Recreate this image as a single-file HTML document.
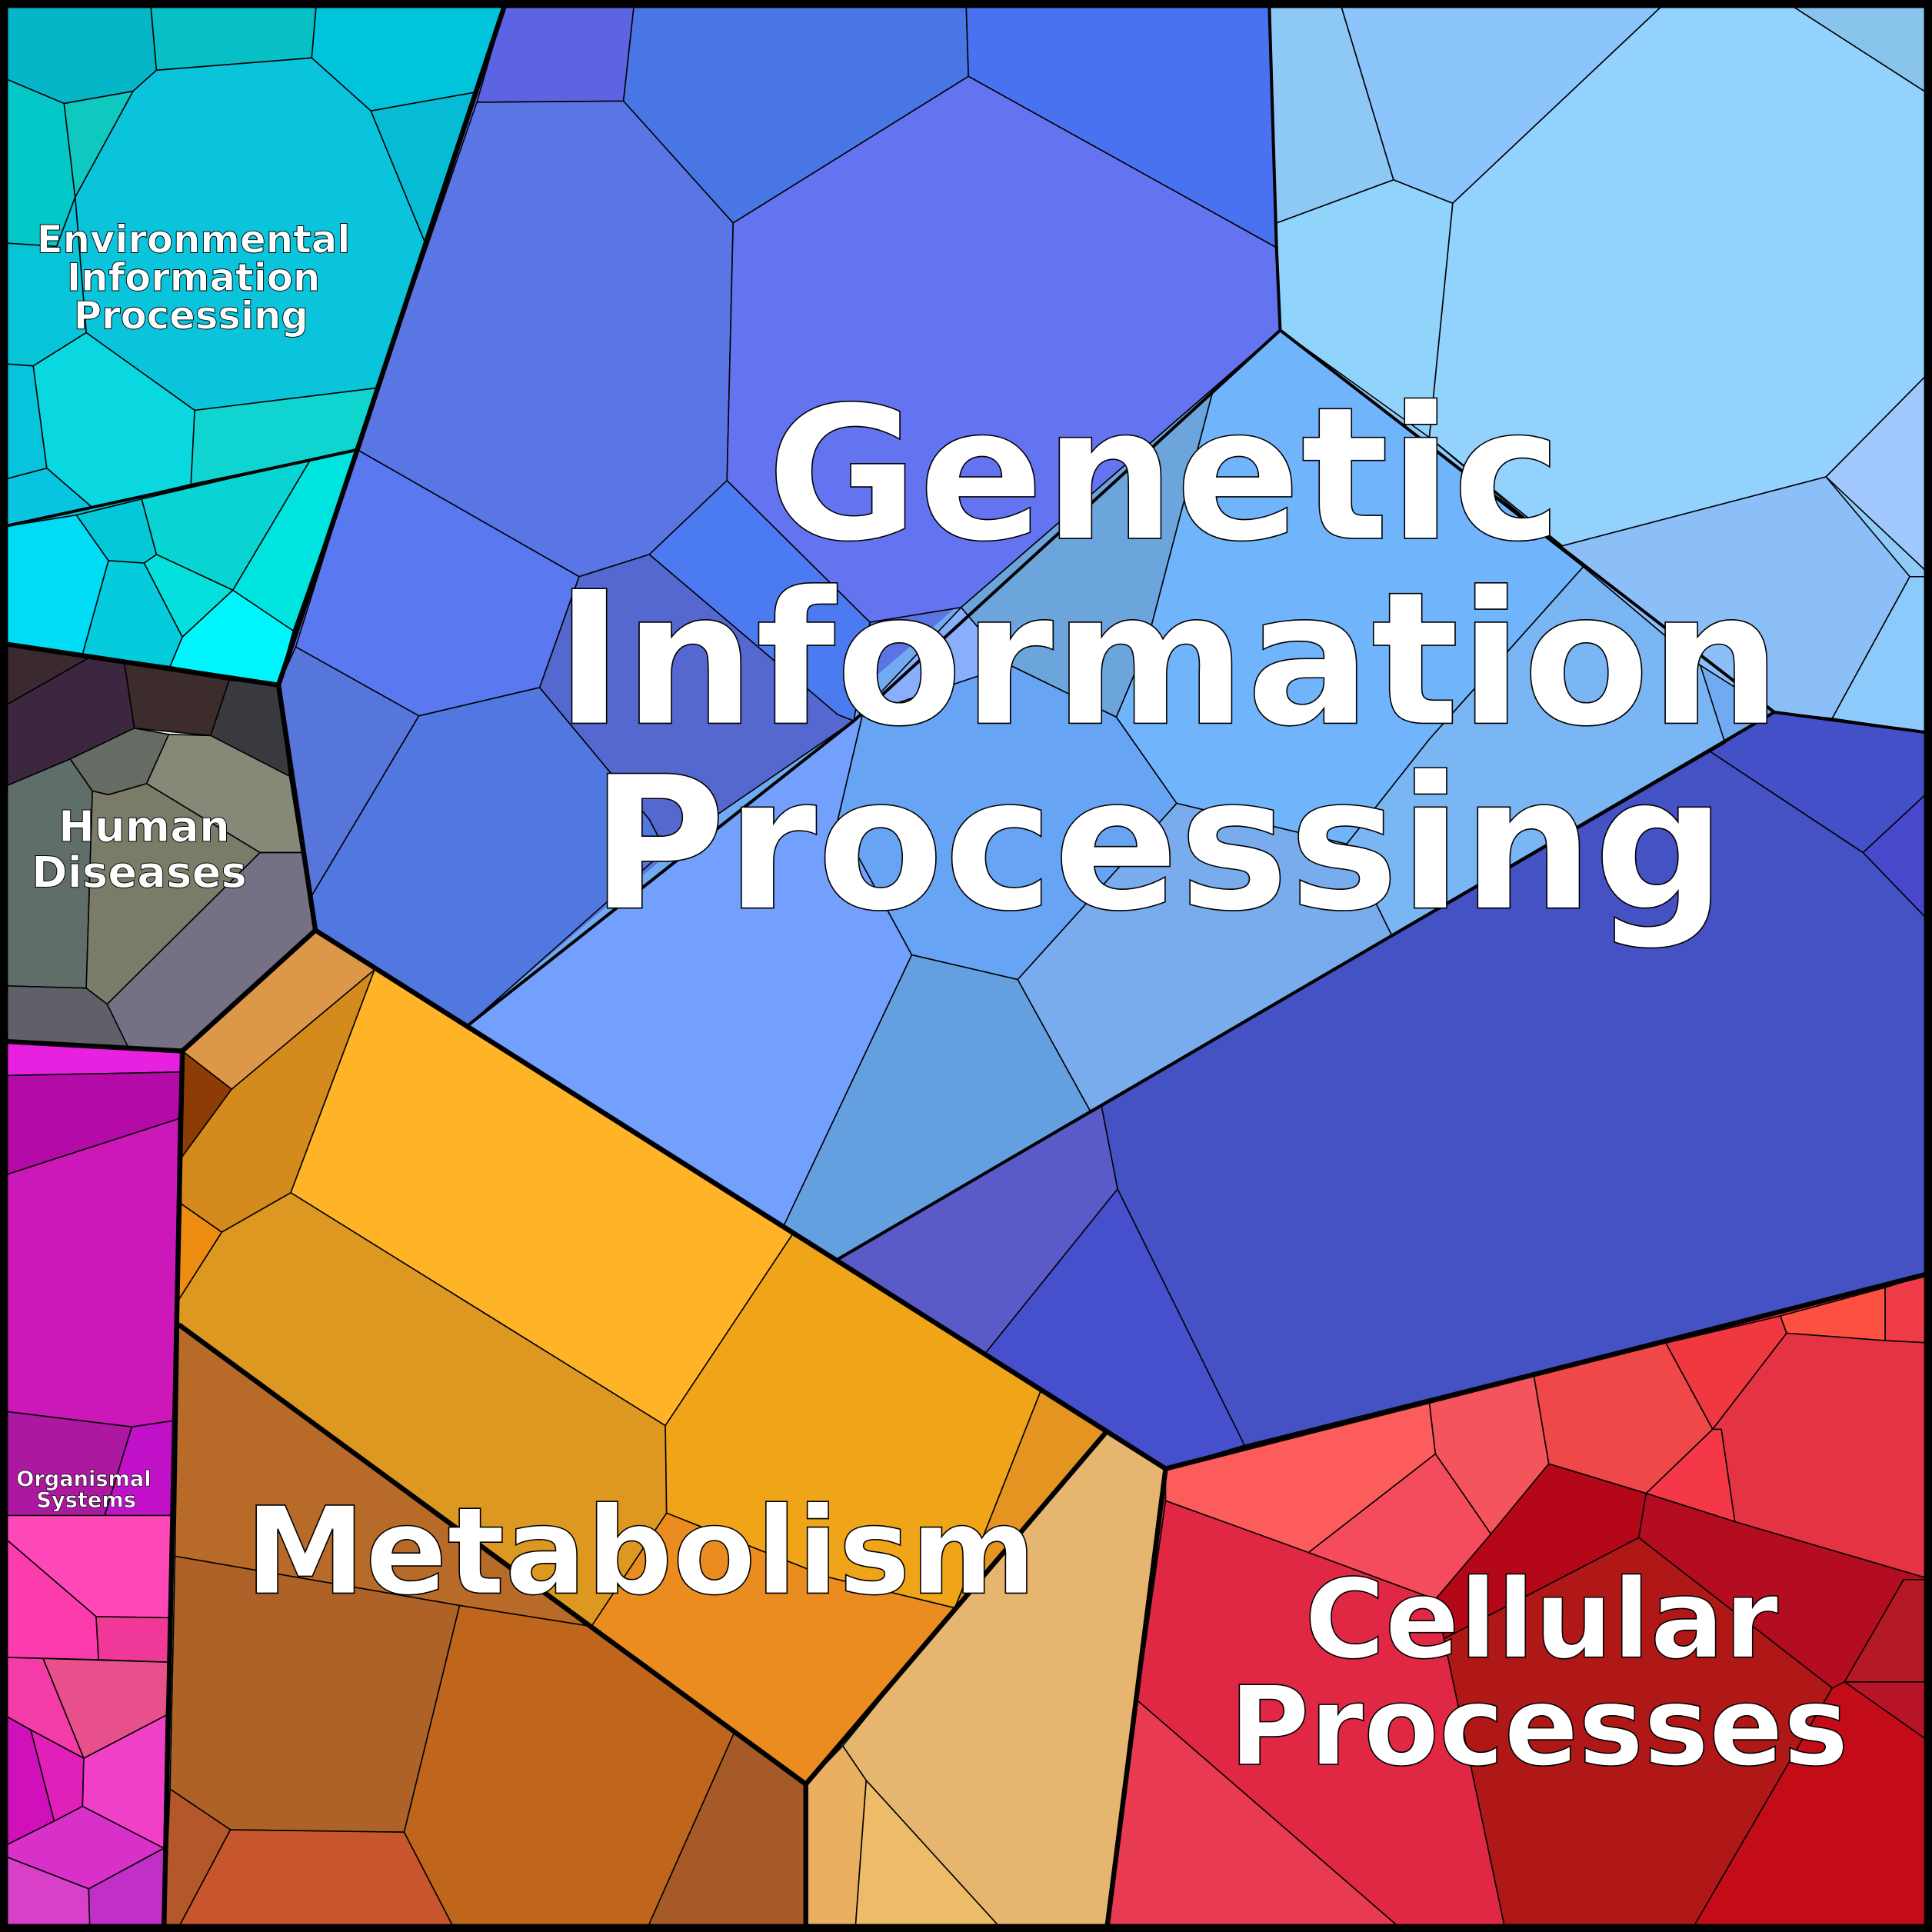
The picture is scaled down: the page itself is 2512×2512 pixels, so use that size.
<!DOCTYPE html>
<html><head><meta charset="utf-8"><style>html,body{margin:0;padding:0;background:#fff}svg{display:block}</style></head>
<body>
<svg xmlns="http://www.w3.org/2000/svg" width="2512" height="2512" viewBox="0 0 1568 1568">
<!-- group backgrounds to fill gaps -->
<g stroke="none">
<polygon fill="#08c8d8" points="0,0 411,0 290,365 226,556 0,522"/>
<polygon fill="#5a74e4" points="411,0 1030,0 1039,268 380,832 256,755 226,556 290,365"/>
<polygon fill="#70aaf0" points="1039,268 1440,578 680,1022 380,832"/>
<polygon fill="#90cbf8" points="1030,0 1568,0 1568,595 1440,578 1039,268"/>
<polygon fill="#4452c4" points="1440,578 1568,595 1568,1033 946,1192 680,1022"/>
<polygon fill="#e03040" points="946,1192 1568,1033 1568,1568 898,1568"/>
</g>
<g stroke="#000" stroke-width="1" stroke-linejoin="round">
<!-- Environmental -->
<polygon fill="#05b5c8" points="0,0 122,0 127,57 108,74 52,84 0,62"/>
<polygon fill="#06c0c6" points="122,0 257,0 253,47 127,57"/>
<polygon fill="#00c4dc" points="257,0 411,0 385,75 301,90 253,47"/>
<polygon fill="#0ac4dc" points="127,57 253,47 301,90 345,197 305,315 158,333 70,270 61,160 108,74"/>
<polygon fill="#04c8c8" points="0,62 52,84 61,160 46,200 0,197"/>
<polygon fill="#0fc8c0" points="52,84 108,74 61,160"/>
<polygon fill="#05bcd4" points="301,90 385,75 345,197"/>
<polygon fill="#08c4d8" points="0,197 46,200 61,160 70,270 27,297 0,295"/>
<polygon fill="#06c4dc" points="0,295 27,297 38,380 0,390"/>
<polygon fill="#0ad8e0" points="27,297 70,270 158,333 155,393 75,412 38,380"/>
<polygon fill="#10d4d0" points="158,333 305,315 290,365 155,393"/>
<polygon fill="#08c4e0" points="0,390 38,380 75,412 0,428"/>
<polygon fill="#00dcf4" points="0,428 62,418 88,455 67,531 0,522"/>
<polygon fill="#04c8d8" points="62,418 115,405 127,450 117,457 88,455"/>
<polygon fill="#08d4d4" points="115,405 252,373 189,479 127,450"/>
<polygon fill="#00e4e0" points="252,373 290,365 238,512 189,479"/>
<polygon fill="#04ccdc" points="88,455 117,457 148,517 138,541 67,531"/>
<polygon fill="#04e0dc" points="117,457 127,450 189,479 148,517"/>
<polygon fill="#00f4fc" points="148,517 189,479 238,512 226,556 138,541"/>
<!-- Human diseases -->
<polygon fill="#3a2a30" points="0,522 72,534 0,575"/>
<polygon fill="#3c2640" points="0,575 72,534 101,538 109,591 57,616 0,640"/>
<polygon fill="#3c2c2c" points="101,538 186,552 171,597 109,591"/>
<polygon fill="#383a3e" points="186,552 226,556 235,630 171,597"/>
<polygon fill="#5f6e68" points="0,640 57,616 75,642 70,802 0,800"/>
<polygon fill="#666c64" points="57,616 109,591 137,596 119,636 88,645 75,642"/>
<polygon fill="#868878" points="137,596 171,597 235,630 245,692 211,692 119,636"/>
<polygon fill="#7a7c68" points="75,642 88,645 119,636 211,692 87,815 70,802"/>
<polygon fill="#767084" points="211,692 245,692 256,755 148,853 105,852 87,815"/>
<polygon fill="#606068" points="0,800 70,802 87,815 105,852 0,845"/>
<!-- Organismal -->
<polygon fill="#e820e0" points="0,845 148,853 147,870 0,873"/>
<polygon fill="#b40aa8" points="0,873 147,870 145,908 0,955"/>
<polygon fill="#cc18b8" points="0,955 145,908 141,1153 107,1158 0,1145"/>
<polygon fill="#ac18a0" points="0,1145 107,1158 85,1230 0,1230"/>
<polygon fill="#c010c8" points="107,1158 141,1153 139,1230 85,1230"/>
<polygon fill="#ff48b8" points="0,1230 139,1230 138,1313 78,1312 0,1245"/>
<polygon fill="#fc3cac" points="0,1245 78,1312 80,1347 0,1345"/>
<polygon fill="#f03898" points="78,1312 138,1313 137,1349 80,1347"/>
<polygon fill="#f43ca8" points="0,1345 35,1346 68,1427 25,1404 0,1390"/>
<polygon fill="#e8508c" points="35,1346 137,1349 135,1392 68,1427"/>
<polygon fill="#d010b8" points="0,1390 25,1404 44,1478 0,1500"/>
<polygon fill="#e020b8" points="25,1404 68,1427 67,1466 44,1478"/>
<polygon fill="#f040c8" points="68,1427 135,1392 133,1500 67,1466"/>
<polygon fill="#d830c8" points="0,1500 44,1478 67,1466 133,1500 72,1533 0,1505"/>
<polygon fill="#d840c8" points="0,1505 72,1533 73,1568 0,1568"/>
<polygon fill="#c030c8" points="72,1533 133,1500 133,1568 73,1568"/>
<!-- Metabolism -->
<polygon fill="#dc9848" points="256,755 304,787 188,884 148,853"/>
<polygon fill="#8c3c04" points="148,853 188,884 147,940"/>
<polygon fill="#d48a1c" points="188,884 304,787 236,968 180,1000 147,977 147,940"/>
<polygon fill="#ffb428" points="304,787 643,1002 540,1157 236,968"/>
<polygon fill="#ec8c10" points="147,977 180,1000 145,1055"/>
<polygon fill="#dc9820" points="145,1055 180,1000 236,968 540,1157 541,1228 480,1320 145,1075"/>
<polygon fill="#f0a418" points="643,1002 845,1128 775,1305 672,1280 541,1228 540,1157"/>
<polygon fill="#e49420" points="845,1128 898,1162 775,1305"/>
<polygon fill="#ea8c20" points="480,1320 541,1228 672,1280 775,1305 654,1448"/>
<polygon fill="#e6b670" points="898,1162 946,1192 898,1568 815,1568 703,1445 684,1417 775,1305"/>
<polygon fill="#e8b060" points="654,1448 684,1417 703,1445 694,1568 654,1568"/>
<polygon fill="#ecbc68" points="703,1445 815,1568 694,1568"/>
<polygon fill="#b86a28" points="145,1075 480,1320 373,1303 142,1263"/>
<polygon fill="#ae6228" points="142,1263 373,1303 328,1487 187,1485 138,1452"/>
<polygon fill="#c0661c" points="373,1303 480,1320 596,1406 524,1568 370,1568 328,1487"/>
<polygon fill="#a65a28" points="596,1406 654,1448 654,1568 524,1568"/>
<polygon fill="#b4582c" points="138,1452 187,1485 143,1568 133,1568"/>
<polygon fill="#c8562c" points="187,1485 328,1487 370,1568 143,1568"/>
<!-- Genetic: upper-left -->
<polygon fill="#5c64e4" points="411,0 515,0 506,82 387,83"/>
<polygon fill="#4876e4" points="515,0 784,0 786,62 595,181 506,82"/>
<polygon fill="#4872f0" points="784,0 1030,0 1036,201 786,62"/>
<polygon fill="#5a76e4" points="387,83 506,82 595,181 590,390 527,450 470,468 290,365"/>
<polygon fill="#6474f0" points="595,181 786,62 1036,201 1039,268 780,493 706,505 590,390"/>
<polygon fill="#5a78f0" points="290,365 470,468 438,558 340,581 240,525"/>
<polygon fill="#5676dc" points="240,525 340,581 253,727 256,755 226,556"/>
<polygon fill="#5078e0" points="340,581 438,558 527,665 540,690 380,832 256,755 253,727"/>
<polygon fill="#5468d0" points="470,468 527,450 680,580 693,585 540,690 527,665 438,558"/>
<polygon fill="#4c7af0" points="527,450 590,390 706,505 693,585 680,580"/>
<!-- Genetic: middle -->
<polygon fill="#6ca4dc" points="780,493 985,315 930,525 906,582 820,540"/>
<polygon fill="#70b4fc" points="985,315 1039,268 1285,460 1160,600 1093,685 955,652 906,582 930,525"/>
<polygon fill="#88aefc" points="693,585 780,493 820,540 700,580"/>
<polygon fill="#68a4f4" points="700,580 820,540 906,582 955,652 826,795 740,775 680,665"/>
<polygon fill="#72a0fc" points="380,832 693,585 700,580 680,665 740,775 636,995"/>
<polygon fill="#64a0e0" points="740,775 826,795 885,902 680,1022 636,995"/>
<polygon fill="#78acec" points="955,652 1093,685 1130,760 885,902 826,795"/>
<polygon fill="#7ab6f4" points="1285,460 1380,540 1400,603 1130,760 1093,685 1160,600"/>
<!-- Genetic: right -->
<polygon fill="#8ec8f4" points="1030,0 1087,0 1131,146 1036,181"/>
<polygon fill="#8cc4fc" points="1087,0 1354,0 1179,165 1131,146"/>
<polygon fill="#94d2fe" points="1354,0 1447,0 1568,78 1568,300 1482,387 1268,443 1160,355 1179,165"/>
<polygon fill="#88c4ec" points="1447,0 1568,0 1568,78"/>
<polygon fill="#90d4fc" points="1036,181 1131,146 1179,165 1160,355 1039,268"/>
<polygon fill="#a0c8fc" points="1568,300 1568,468 1482,387"/>
<polygon fill="#8cbef8" points="1268,443 1482,387 1550,468 1487,583 1440,578 1380,540 1285,460 1160,355"/>
<polygon fill="#8ccafc" points="1550,468 1568,468 1568,595 1487,583"/>
<!-- Genetic: dark -->
<polygon fill="#4450c8" points="1440,578 1568,595 1568,640 1512,692 1388,610"/>
<polygon fill="#4848cc" points="1568,640 1568,750 1512,692"/>
<polygon fill="#4452c4" points="1388,610 1512,692 1568,750 1568,1033 1010,1173 907,965 894,898 1130,760 1400,603"/>
<polygon fill="#5a5ac8" points="680,1022 894,898 907,965 800,1098"/>
<polygon fill="#4650cc" points="800,1098 907,965 1010,1173 946,1192 898,1162"/>
<!-- Cellular -->
<polygon fill="#fc5c5c" points="946,1192 1160,1138 1165,1180 1062,1260 946,1218"/>
<polygon fill="#f4545c" points="1160,1138 1245,1117 1257,1188 1210,1245 1165,1180"/>
<polygon fill="#f04848" points="1245,1117 1352,1090 1390,1160 1336,1212 1257,1188"/>
<polygon fill="#f03840" points="1352,1090 1445,1068 1450,1082 1390,1160"/>
<polygon fill="#fc5040" points="1445,1068 1530,1045 1530,1088 1450,1082"/>
<polygon fill="#f03c48" points="1530,1045 1568,1033 1568,1090 1530,1088"/>
<polygon fill="#e43444" points="1450,1082 1530,1088 1568,1090 1568,1282 1408,1235 1397,1160 1390,1160"/>
<polygon fill="#f43848" points="1390,1160 1397,1160 1408,1235 1336,1212"/>
<polygon fill="#f44c5c" points="1062,1260 1165,1180 1210,1245 1165,1298"/>
<polygon fill="#e02844" points="946,1218 1062,1260 1165,1298 1172,1330 1222,1568 1140,1568 923,1380"/>
<polygon fill="#e83a50" points="923,1380 1140,1568 898,1568"/>
<polygon fill="#b40818" points="1257,1188 1336,1212 1330,1248 1172,1330 1165,1298 1210,1245"/>
<polygon fill="#b40c20" points="1336,1212 1408,1235 1568,1282 1545,1282 1497,1370 1487,1370 1330,1248"/>
<polygon fill="#b01818" points="1330,1248 1487,1370 1372,1568 1222,1568 1172,1330"/>
<polygon fill="#b41a24" points="1545,1282 1568,1282 1568,1365 1497,1365"/>
<polygon fill="#b81428" points="1497,1365 1568,1365 1568,1415"/>
<polygon fill="#c40c18" points="1487,1370 1497,1365 1568,1415 1568,1568 1372,1568"/>
</g>
<!-- group boundaries -->
<g fill="none" stroke="#000" stroke-width="2.5" stroke-linejoin="round">
<polyline points="0,428 290,365"/>
<polyline points="1039,268 693,585 380,832"/>
<polyline points="1039,268 1440,578 1568,595"/>
<polyline points="1440,578 680,1022"/>
<polyline points="1030,0 1036,201 1039,268"/>
</g>
<g fill="none" stroke="#000" stroke-width="4" stroke-linejoin="round">
<polyline points="411,0 290,365 226,556 256,755 148,853 133,1568"/>
<polyline points="0,522 226,556"/>
<polyline points="0,845 148,853"/>
<polyline points="256,755 946,1192 1568,1033"/>
<polyline points="946,1192 898,1568"/>
<polyline points="898,1162 654,1448 654,1568"/>
<polyline points="145,1075 654,1448"/>
</g>
<rect x="3" y="3" width="1562" height="1562" fill="none" stroke="#000" stroke-width="7"/>
<g font-family="'DejaVu Sans','Liberation Sans',sans-serif" font-weight="bold" fill="#fff" stroke="#000" text-anchor="middle">
<text font-size="150" stroke-width="1" x="945" y="437">Genetic</text>
<text font-size="150" stroke-width="1" x="948" y="587">Information</text>
<text font-size="150" stroke-width="1" x="940" y="737">Processing</text>
<text font-size="98" stroke-width="1" x="520" y="1293">Metabolism</text>
<text font-size="89" stroke-width="1" x="1251" y="1345">Cellular</text>
<text font-size="89" stroke-width="1" x="1249" y="1432">Processes</text>
<text font-size="31" stroke-width="0.6" x="157" y="205">Environmental</text>
<text font-size="31" stroke-width="0.6" x="157" y="236">Information</text>
<text font-size="31" stroke-width="0.6" x="155" y="267">Processing</text>
<text font-size="35" stroke-width="0.6" x="117" y="683">Human</text>
<text font-size="35" stroke-width="0.6" x="113" y="720">Diseases</text>
<text font-size="17" stroke-width="0.4" x="68" y="1206">Organismal</text>
<text font-size="17" stroke-width="0.4" x="70" y="1223">Systems</text>
</g>
</svg>
</body></html>
